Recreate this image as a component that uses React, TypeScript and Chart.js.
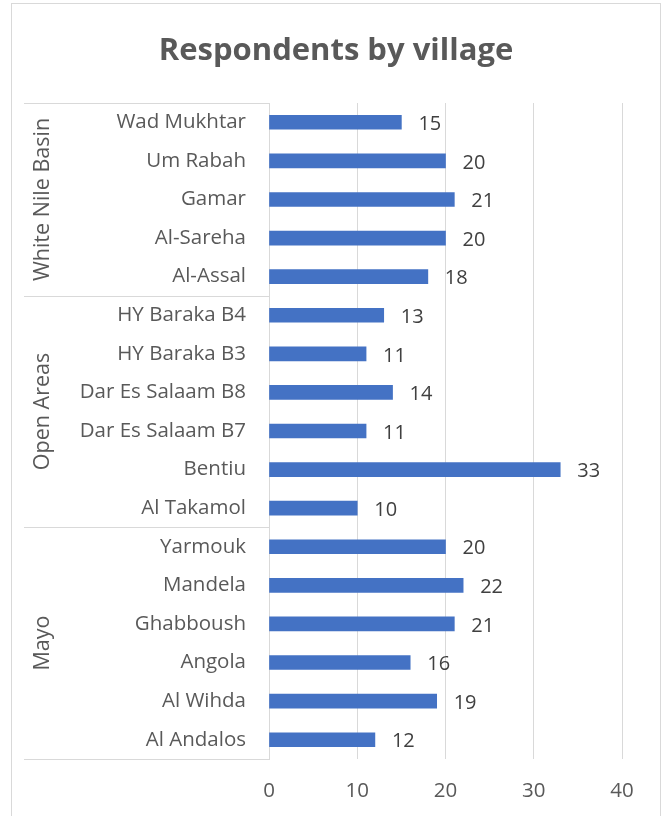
import React, { useEffect, useRef } from "react";
import { Chart, registerables } from "chart.js";

Chart.register(...registerables);

const title = "Respondents by village";
const villages = [
  "Wad Mukhtar", "Um Rabah", "Gamar", "Al-Sareha", "Al-Assal",
  "HY Baraka B4", "HY Baraka B3", "Dar Es Salaam B8", "Dar Es Salaam B7", "Bentiu", "Al Takamol",
  "Yarmouk", "Mandela", "Ghabboush", "Angola", "Al Wihda", "Al Andalos",
];
const respondents = [15, 20, 21, 20, 18, 13, 11, 14, 11, 33, 10, 20, 22, 21, 16, 19, 12];
const groupNames = ["White Nile Basin", "Open Areas", "Mayo"];
const groupSizes = [5, 6, 6];
const xTicks = [0, 10, 20, 30, 40];

const FONT = "'Open Sans', 'Noto Sans', sans-serif";
const LINE = "#d9d9d9";

const decor = {
  id: "decor",
  beforeDraw(chart: any) {
    const ctx = chart.ctx;
    ctx.save();
    ctx.fillStyle = "#ffffff";
    ctx.fillRect(0, 0, chart.width, chart.height);
    ctx.strokeStyle = LINE;
    ctx.lineWidth = 1;
    ctx.strokeRect(11.5, 3.5, 649, 900);
    ctx.fillStyle = "#595959";
    ctx.font = `bold 31px ${FONT}`;
    ctx.textAlign = "center";
    ctx.textBaseline = "middle";
    ctx.fillText(title, 336, 51);
    ctx.restore();
  },
  afterDraw(chart: any) {
    const ctx = chart.ctx;
    const y = chart.scales.y;
    const x = chart.scales.x;
    const area = chart.chartArea;
    const step = y.getPixelForValue(1) - y.getPixelForValue(0);
    ctx.save();
    ctx.strokeStyle = LINE;
    ctx.lineWidth = 1;
    let idx = 0;
    const bounds: number[] = [Math.round(y.getPixelForValue(0) - step / 2)];
    groupSizes.forEach((n) => {
      idx += n;
      bounds.push(Math.round(y.getPixelForValue(idx - 1) + step / 2));
    });
    bounds.forEach((b) => {
      ctx.beginPath();
      ctx.moveTo(24, b + 0.5);
      ctx.lineTo(area.left, b + 0.5);
      ctx.stroke();
    });
    ctx.fillStyle = "#595959";
    ctx.font = `21.5px ${FONT}`;
    ctx.textAlign = "center";
    ctx.textBaseline = "middle";
    groupNames.forEach((g, i) => {
      const cy = (bounds[i] + bounds[i + 1]) / 2;
      ctx.save();
      ctx.translate(43, cy);
      ctx.rotate(-Math.PI / 2);
      ctx.fillText(g, 0, 0);
      ctx.restore();
    });
    ctx.fillStyle = "#404040";
    ctx.font = `20px ${FONT}`;
    ctx.textAlign = "left";
    const meta = chart.getDatasetMeta(0);
    meta.data.forEach((bar: any, i: number) => {
      const v = respondents[i];
      ctx.fillText(String(v), x.getPixelForValue(v) + 17, bar.y + 2);
    });
    ctx.restore();
  },
};

export default function App() {
  const ref = useRef<HTMLCanvasElement>(null);
  useEffect(() => {
    const chart = new Chart(ref.current!, {
      type: "bar",
      data: {
        labels: villages,
        datasets: [
          {
            data: respondents,
            backgroundColor: "#4472C4",
            barThickness: 14,
          },
        ],
      },
      options: {
        indexAxis: "y",
        responsive: false,
        animation: false,
        layout: { padding: { left: 24, right: 40, top: 103, bottom: 0 } },
        plugins: {
          legend: { display: false },
          tooltip: { enabled: false },
          title: { display: false },
        },
        scales: {
          x: {
            min: 0,
            max: 40,
            afterBuildTicks: (s: any) => {
              s.ticks = xTicks.map((v) => ({ value: v }));
            },
            afterFit: (s: any) => {
              s.height = 57;
            },
            grid: { color: LINE, drawTicks: false },
            border: { display: false },
            ticks: { color: "#595959", font: { family: FONT, size: 20.5 }, padding: 20 },
          },
          y: {
            afterFit: (s: any) => {
              s.width = 245;
            },
            grid: { display: false, drawTicks: false },
            border: { display: true, color: LINE },
            ticks: { color: "#595959", font: { family: FONT, size: 20.5 }, padding: 23, autoSkip: false },
          },
        },
      },
      plugins: [decor],
    } as any);
    return () => chart.destroy();
  }, []);
  return (
    <div style={{ position: "absolute", left: 0, top: 0, width: 662, height: 816 }}>
      <canvas ref={ref} width={662} height={816} style={{ display: "block" }} />
    </div>
  );
}
